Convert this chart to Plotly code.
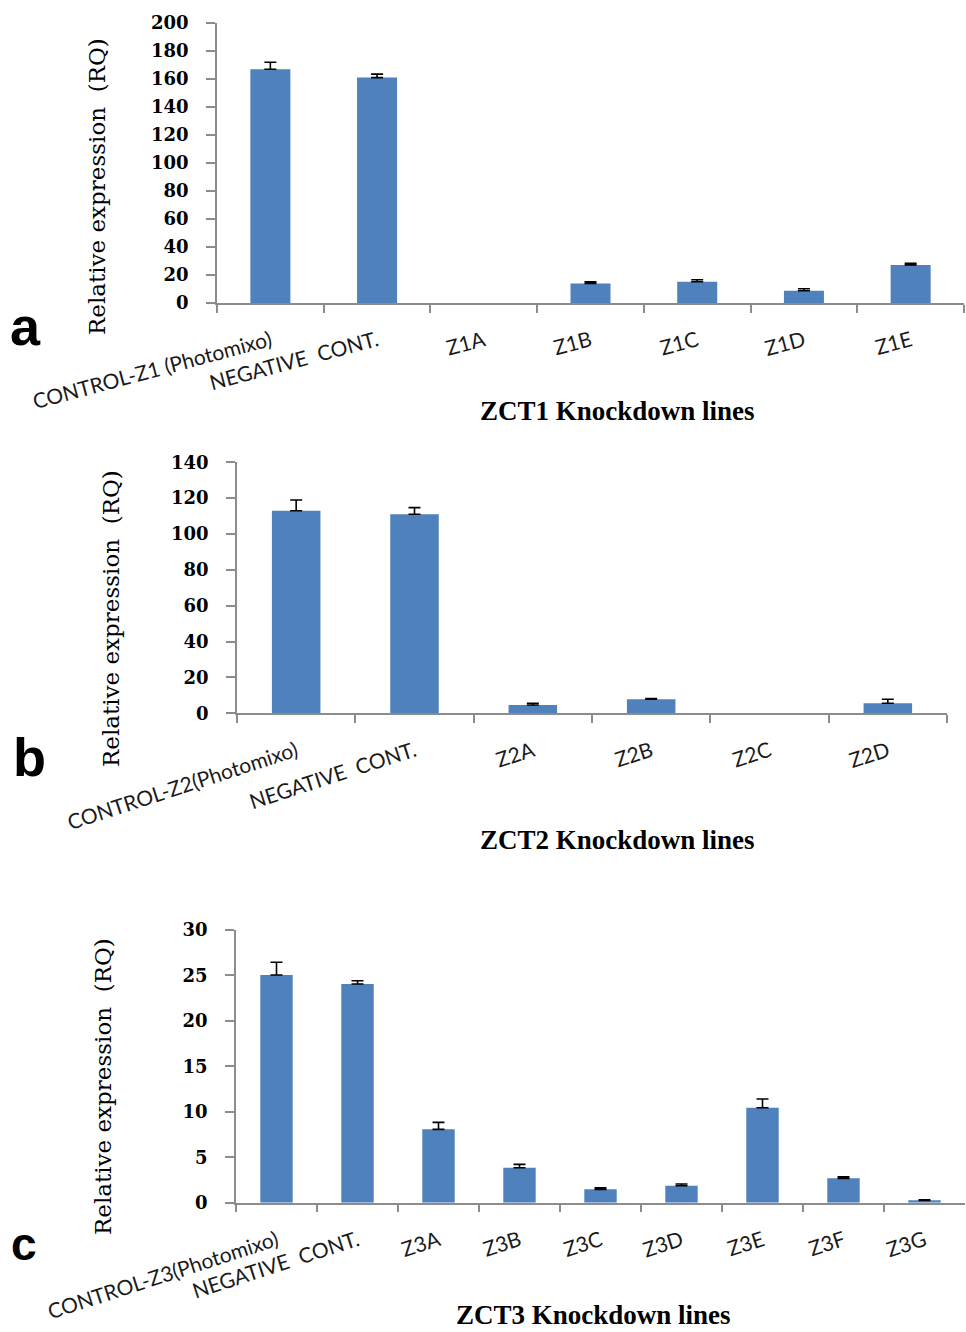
import numpy as np
import plotly.graph_objects as go

# ---------------- data ----------------
NA = float("nan")  # no error bar drawn (bar value is zero)

cats_a = ["CONTROL-Z1 (Photomixo)", "NEGATIVE  CONT.", "Z1A", "Z1B", "Z1C", "Z1D", "Z1E"]
vals_a = [167, 161, 0, 14, 15.2, 8.8, 27.1]
err_a = [5, 2.5, NA, 1.2, 1.4, 1.4, 1.2]

cats_b = ["CONTROL-Z2(Photomixo)", "NEGATIVE  CONT.", "Z2A", "Z2B", "Z2C", "Z2D"]
vals_b = [113, 111, 4.6, 7.8, 0, 5.6]
err_b = [6, 3.7, 1.0, 0.4, NA, 2.2]

cats_c = ["CONTROL-Z3(Photomixo)", "NEGATIVE  CONT.", "Z3A", "Z3B", "Z3C", "Z3D", "Z3E", "Z3F", "Z3G"]
vals_c = [25.05, 24.06, 8.07, 3.85, 1.47, 1.87, 10.45, 2.68, 0.26]
err_c = [1.4, 0.35, 0.77, 0.37, 0.18, 0.19, 0.95, 0.18, 0.05]

titles_x = ["ZCT1 Knockdown lines", "ZCT2 Knockdown lines", "ZCT3 Knockdown lines"]
title_y = "Relative expression  (RQ)"
panel_letters = ["a", "b", "c"]

W, H = 966, 1332
BAR = "#4F81BD"
AX = "#8C8C8C"

fig = go.Figure()

def add_bars(cats, vals, errs, ax, width):
    e = np.array(errs, dtype=float)
    fig.add_trace(go.Bar(
        x=cats, y=vals, xaxis="x" + ax, yaxis="y" + ax, width=width,
        marker=dict(color=BAR, line=dict(width=0)),
        error_y=dict(type="data", array=e, symmetric=False,
                     arrayminus=e * 0.0, color="black",
                     thickness=1.6, width=6),
        showlegend=False, hoverinfo="x+y"))

add_bars(cats_a, vals_a, err_a, "", 0.375)
add_bars(cats_b, vals_b, err_b, "2", 0.41)
add_bars(cats_c, vals_c, err_c, "3", 0.40)

def px_x(p):
    return p / W

def px_y(p):
    return 1 - p / H

tickfont_x = dict(family="Lato", size=21, color="#1a1a1a")
tickfont_y = dict(family="DejaVu Serif", size=18, color="black", weight="bold")

def xaxis(dom, anchor, angle):
    return dict(domain=dom, anchor=anchor, type="category", automargin=False,
                showline=True, linecolor=AX, linewidth=1.5,
                ticks="outside", tickson="boundaries", ticklen=8,
                tickcolor=AX, tickwidth=1.5, tickangle=angle,
                tickfont=tickfont_x, showgrid=False, zeroline=False,
                ticklabelstandoff=16, fixedrange=True)

def yaxis(dom, anchor, rng, dtick):
    return dict(domain=dom, anchor=anchor, range=rng, dtick=dtick, automargin=False,
                showline=True, linecolor=AX, linewidth=1.5,
                ticks="outside", ticklen=9, tickcolor=AX, tickwidth=1.5,
                tickfont=tickfont_y, showgrid=False, zeroline=False,
                ticklabelstandoff=14, fixedrange=True)

fig.update_layout(
    width=W, height=H, margin=dict(l=0, r=0, t=0, b=0, autoexpand=False),
    paper_bgcolor="white", plot_bgcolor="white",
    xaxis=xaxis([px_x(217), px_x(964)], "y", -15),
    yaxis=yaxis([px_y(303), px_y(23)], "x", [0, 200], 20),
    xaxis2=xaxis([px_x(237), px_x(947)], "y2", -18),
    yaxis2=yaxis([px_y(713.3), px_y(462.3)], "x2", [0, 140], 20),
    xaxis3=xaxis([px_x(236), px_x(965)], "y3", -18),
    yaxis3=yaxis([px_y(1202.7), px_y(930)], "x3", [0, 30], 5),
)

ann = []
# x titles
for t, (cx, cy) in zip(titles_x, [(617, 411), (617, 840), (593, 1315)]):
    ann.append(dict(text=t, x=px_x(cx), y=px_y(cy), xref="paper", yref="paper",
                    showarrow=False, xanchor="center", yanchor="middle",
                    font=dict(family="Liberation Serif", size=27, color="black", weight="bold")))
# y titles
for (cx, cy) in [(97, 187), (111, 619), (103, 1087)]:
    ann.append(dict(text=title_y, x=px_x(cx), y=px_y(cy), xref="paper", yref="paper",
                    showarrow=False, xanchor="center", yanchor="middle", textangle=-90,
                    font=dict(family="DejaVu Serif", size=23, color="black")))
# panel letters
for L, (cx, cy), s in zip(panel_letters, [(25, 326), (29, 757), (24, 1244)], [54, 54, 46]):
    ann.append(dict(text=L, x=px_x(cx), y=px_y(cy), xref="paper", yref="paper",
                    showarrow=False, xanchor="center", yanchor="middle",
                    font=dict(family="Liberation Sans", size=s, color="black", weight="bold")))
fig.update_layout(annotations=ann)

fig.write_html("out.html", config={"displayModeBar": False},
               post_script="document.body.style.margin='0';document.body.style.overflow='hidden';")
